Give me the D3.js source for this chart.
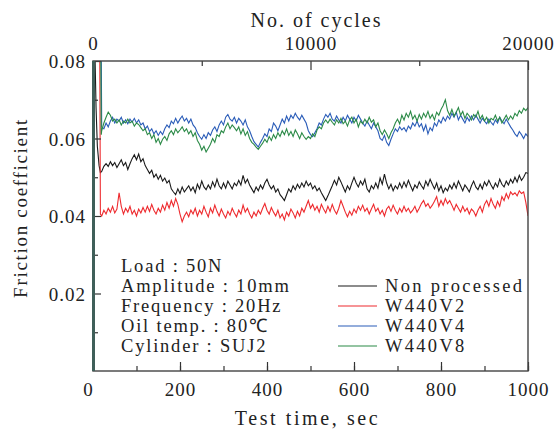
<!DOCTYPE html>
<html lang="en">
<head>
  <meta charset="UTF-8">
  <title>Friction coefficient vs test time</title>
  <script src="https://d3js.org/d3.v7.min.js"></script>
  <style>
    body { margin: 0; background: #fff; }
  </style>
</head>
<body>
  <div id="chart"></div>
  <script>
    // values are friction coefficients x 1e-4, sampled every 5 s from t = 20 s to 1000 s
    const UNIT = 1e-4;
    const t0 = 20, dt = 5;

    const nonProcessed = [515,528,535,528,540,530,538,525,535,545,530,538,520,535,548,558,545,560,540,548,
      530,520,510,518,500,508,495,505,490,498,485,492,470,462,455,470,458,475,462,470,
      478,465,475,460,482,470,490,475,468,480,470,488,475,495,478,470,485,472,490,480,
      470,485,478,492,480,505,485,495,480,470,460,475,465,480,470,485,495,480,470,478,
      462,470,455,448,440,455,470,462,478,468,482,472,485,475,490,478,485,470,478,465,
      472,460,450,440,452,465,478,492,480,500,488,475,462,478,468,485,500,485,475,490,
      480,495,470,462,478,470,485,472,498,482,508,485,470,482,465,478,470,485,472,488,
      475,492,478,465,480,472,488,478,470,490,478,495,482,470,485,465,478,460,472,465,
      480,470,485,472,490,478,465,480,472,462,478,490,475,468,482,470,488,478,492,480,
      470,485,475,495,482,475,490,480,495,485,500,488,505,492,500,512,510];
    const w440v2 = [400,415,405,420,410,425,408,418,460,425,405,420,410,425,405,415,400,418,408,422,
      410,425,412,430,415,405,420,410,428,415,435,420,440,425,445,430,405,385,400,410,
      398,415,405,420,400,415,405,425,410,398,420,408,428,412,400,418,405,395,412,402,
      420,408,398,415,405,428,410,420,405,395,410,400,415,405,420,432,415,405,422,410,
      400,415,395,405,390,410,400,418,408,395,412,400,420,410,425,440,420,430,415,425,
      410,430,418,408,425,412,430,415,405,420,440,425,410,398,412,402,418,408,425,415,
      428,412,420,405,418,430,412,420,405,415,400,418,425,412,428,415,405,420,410,425,
      412,420,408,415,425,410,420,432,440,425,432,420,428,438,450,425,440,428,445,432,
      440,428,415,430,420,410,425,412,420,405,418,412,400,415,425,410,430,440,425,445,
      430,420,438,425,450,440,458,445,462,455,460,452,465,458,462,435,400];
    const w440v4 = [630,625,640,630,645,655,640,650,645,655,640,648,638,650,642,652,640,648,635,640,
      625,632,618,625,612,620,608,618,610,625,635,628,645,638,652,640,650,658,645,652,
      640,650,635,628,615,605,598,610,600,615,608,622,630,618,635,645,635,655,662,650,
      645,655,640,652,645,635,648,630,620,605,592,585,578,590,600,612,605,625,618,640,
      632,620,635,650,640,658,645,660,652,665,655,648,660,650,640,620,610,605,615,625,
      640,635,650,662,655,665,650,645,658,648,640,655,645,660,650,640,655,645,660,650,
      640,632,645,635,625,640,630,620,600,595,608,590,582,598,612,625,618,630,622,628,
      618,632,625,640,632,645,630,638,620,635,612,628,620,640,632,648,640,655,645,658,
      650,665,655,668,648,660,650,640,655,645,658,648,660,650,640,652,645,638,650,642,
      635,648,640,655,645,638,650,640,630,622,612,605,618,610,600,612,605];
    const w440v8 = [620,640,655,668,660,645,650,640,648,635,645,640,650,640,645,632,640,636,628,620,
      625,610,615,600,610,590,600,585,598,605,595,612,620,610,625,615,622,630,618,625,
      612,620,605,615,595,585,570,580,565,575,585,600,590,610,605,620,615,630,640,625,
      635,628,620,630,612,625,608,618,600,590,585,578,572,580,588,598,590,605,595,610,
      600,615,605,620,610,625,608,618,605,622,612,600,615,605,598,605,600,612,605,622,
      630,625,640,648,640,650,642,635,648,640,652,638,645,632,648,655,640,650,630,645,
      638,650,640,655,642,648,630,640,620,610,622,612,600,615,625,640,650,638,660,648,
      665,655,670,650,660,645,662,650,665,655,670,652,662,648,668,660,675,685,700,672,
      660,675,658,668,680,660,670,652,665,658,648,662,655,670,650,660,645,655,640,652,
      648,660,645,655,640,650,660,648,658,650,665,658,672,665,678,672,680];

    // run-in transient before t = 20 s: [time s, friction coefficient]
    const headNon = [[0, 0], [1, 0.1], [4, 0.085], [7, 0.068], [10, 0.058], [14, 0.053], [17, 0.0512]];
    const headV2 = [[0, 0], [1, 0.1], [15, 0.1], [17, 0.0405]];
    const headV4 = [[0, 0], [1, 0.1], [18, 0.1], [20, 0.063]];
    const headV8 = [[0, 0], [1, 0.1], [17, 0.1], [19, 0.061]];

    const seriesNames = ["Non processed", "W440V2", "W440V4", "W440V8"];
    const seriesColors = ["#1a1a1a", "#ee2a2e", "#2a5cb8", "#2b8a47"];
    const seriesValues = [nonProcessed, w440v2, w440v4, w440v8];
    const seriesHeads = [headNon, headV2, headV4, headV8];

    const conditions = ["Load : 50N", "Amplitude : 10mm", "Frequency : 20Hz", "Oil temp. : 80\u2103", "Cylinder : SUJ2"];
    const yTicks = [0.02, 0.04, 0.06, 0.08];
    const xTicks = [0, 200, 400, 600, 800, 1000];
    const cycleTicks = [0, 10000, 20000];

    const FONT = '"Liberation Serif"';
    const width = 556, height = 435;
    const margin = { top: 61, right: 28, bottom: 64, left: 93 };

    const svg = d3.select("#chart").append("svg").attr("width", width).attr("height", height);

    const x = d3.scaleLinear().domain([0, 1000]).range([margin.left, width - margin.right]);
    const xc = d3.scaleLinear().domain([0, 20000]).range([margin.left, width - margin.right]);
    const y = d3.scaleLinear().domain([0, 0.08]).range([height - margin.bottom, margin.top]);

    svg.append("clipPath").attr("id", "plot-clip").append("rect")
      .attr("x", margin.left).attr("y", margin.top)
      .attr("width", x(1000) - x(0)).attr("height", y(0) - y(0.08));

    // build point lists
    const series = seriesNames.map((name, i) => {
      const pts = seriesHeads[i].map(([t, v]) => ({ t, v }));
      seriesValues[i].forEach((v, k) => pts.push({ t: t0 + k * dt, v: v * UNIT }));
      return { name, color: seriesColors[i], pts };
    });

    const line = d3.line().x(d => x(d.t)).y(d => y(d.v));

    svg.append("g").attr("clip-path", "url(#plot-clip)")
      .selectAll("path")
      .data(series)
      .enter().append("path")
      .attr("d", d => line(d.pts))
      .attr("fill", "none")
      .attr("stroke", d => d.color)
      .attr("stroke-width", 1.1)
      .attr("stroke-linejoin", "miter");

    // axes (ticks pointing inward)
    const axisStyle = g => {
      g.attr("font-family", FONT).attr("font-size", 19);
      g.select(".domain").remove();
      g.selectAll("line").attr("stroke", "#333").attr("stroke-width", 1.2);
      g.selectAll("text").style("font-family", FONT).style("font-size", "19px")
        .attr("letter-spacing", 1).attr("fill", "#222");
    };

    // bottom
    svg.append("g").attr("transform", `translate(0,${y(0)})`)
      .call(d3.axisBottom(x).tickValues(d3.range(0, 1001, 100)).tickSize(-5).tickFormat(""))
      .call(axisStyle);
    svg.append("g").attr("transform", `translate(0,${y(0)})`)
      .call(d3.axisBottom(x).tickValues(xTicks).tickSize(-9).tickPadding(12).tickFormat(d3.format("d")))
      .call(axisStyle)
      .selectAll("text").attr("dx", d => d === 0 ? -5 : 0);

    // left
    svg.append("g").attr("transform", `translate(${x(0)},0)`)
      .call(d3.axisLeft(y).tickValues(d3.range(0.01, 0.08, 0.02)).tickSize(-5).tickFormat(""))
      .call(axisStyle);
    svg.append("g").attr("transform", `translate(${x(0)},0)`)
      .call(d3.axisLeft(y).tickValues(yTicks).tickSize(-8).tickPadding(7).tickFormat(d3.format(".2f")))
      .call(axisStyle)
      .selectAll("text").attr("dy", "0.36em");

    // top (cycles)
    svg.append("g").attr("transform", `translate(0,${y(0.08)})`)
      .call(d3.axisTop(xc).tickValues([5000, 15000]).tickSize(-5).tickFormat(""))
      .call(axisStyle);
    svg.append("g").attr("transform", `translate(0,${y(0.08)})`)
      .call(d3.axisTop(xc).tickValues(cycleTicks).tickSize(-9).tickPadding(11).tickFormat(d3.format("d")))
      .call(axisStyle);

    // frame
    svg.append("rect")
      .attr("x", x(0)).attr("y", y(0.08))
      .attr("width", x(1000) - x(0)).attr("height", y(0) - y(0.08))
      .attr("fill", "none").attr("stroke", "#444").attr("stroke-width", 1.4);
    svg.append("line")
      .attr("x1", x(0) + 0.5).attr("x2", x(0) + 0.5).attr("y1", y(0.08)).attr("y2", y(0))
      .attr("stroke", "#3f5f59").attr("stroke-width", 3);

    const label = sel => sel.style("font-family", FONT).attr("fill", "#222");

    // axis titles
    svg.append("text").attr("x", (x(0) + x(1000)) / 2 + 6).attr("y", 27)
      .attr("text-anchor", "middle").style("font-size", "20px").attr("letter-spacing", 2)
      .call(label).text("No. of cycles");
    svg.append("text").attr("x", (x(0) + x(1000)) / 2 - 3).attr("y", 425)
      .attr("text-anchor", "middle").style("font-size", "20px").attr("letter-spacing", 2.6)
      .call(label).text("Test time, sec");
    svg.append("text")
      .attr("transform", `translate(27,${(y(0) + y(0.08)) / 2 - 8}) rotate(-90)`)
      .attr("text-anchor", "middle").style("font-size", "19px").attr("letter-spacing", 1.7)
      .call(label).text("Friction coefficient");

    // test conditions
    svg.append("g").selectAll("text")
      .data(conditions)
      .enter().append("text")
      .attr("x", 121).attr("y", (d, i) => 272 + i * 20)
      .style("font-size", "18.5px").attr("letter-spacing", 1.8)
      .call(label).text(d => d);

    // legend
    const legend = svg.append("g").selectAll("g")
      .data(series)
      .enter().append("g")
      .attr("transform", (d, i) => `translate(338,${286 + i * 20})`);
    legend.append("line").attr("x1", 0).attr("x2", 39)
      .attr("stroke", d => d.color).attr("stroke-width", 1.2);
    legend.append("text").attr("x", 47).attr("y", 6)
      .style("font-size", "18.5px").attr("letter-spacing", 2.3)
      .call(label).text(d => d.name);
  </script>
</body>
</html>
